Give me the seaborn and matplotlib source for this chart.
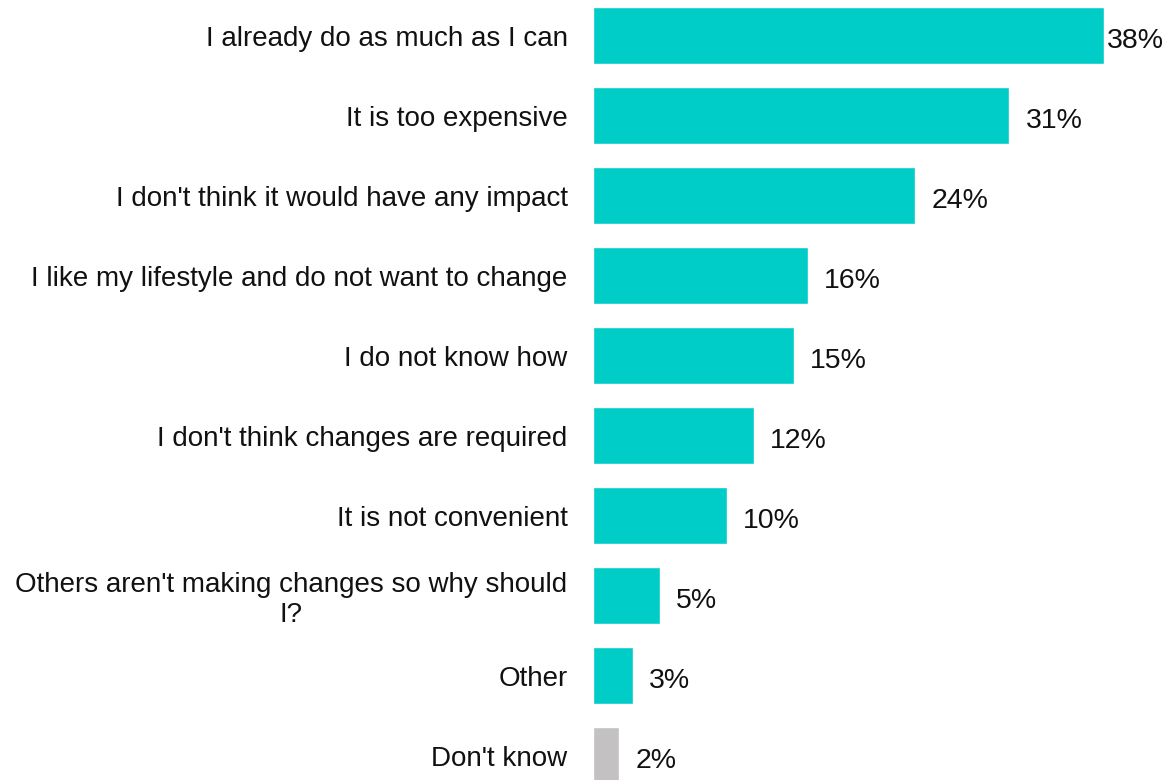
import matplotlib
matplotlib.use("Agg")
import matplotlib.pyplot as plt
import seaborn as sns
import pandas as pd

categories = [
    "I already do as much as I can",
    "It is too expensive",
    "I don't think it would have any impact",
    "I like my lifestyle and do not want to change",
    "I do not know how",
    "I don't think changes are required",
    "It is not convenient",
    "Others aren't making changes so why should\nI?",
    "Other",
    "Don't know",
]
values = [38, 31, 24, 16, 15, 12, 10, 5, 3, 2]
value_labels = ["38%", "31%", "24%", "16%", "15%", "12%", "10%", "5%", "3%", "2%"]

TEAL = "#00CCC8"
GREY = "#C3C1C1"
bar_colors = [GREY if c == "Don't know" else TEAL for c in categories]

sns.set_theme(style="white")
plt.rcParams["font.family"] = ["Liberation Sans", "DejaVu Sans"]

df = pd.DataFrame({"reason": categories, "share": values})

W, H = 1174, 780
fig = plt.figure(figsize=(W / 100, H / 100), dpi=100)
ax = fig.add_axes([592.5 / W, 0, (W - 592.5) / W, 1])

sns.barplot(data=df, x="share", y="reason", hue="reason", palette=bar_colors,
            legend=False, width=0.7125, ax=ax, saturation=1)

px_per_unit = 13.45
ax.set_xlim(0, (W - 592.5) / px_per_unit)
ax.set_ylim((H - 35.5) / 80, -35.5 / 80)

for i, (v, lab) in enumerate(zip(values, value_labels)):
    off = 3 if v == max(values) else 16
    ax.annotate(lab, xy=(v, i), xytext=(off * 0.72, -1.5), textcoords="offset points",
                va="center_baseline", ha="left", fontsize=20.5, color="#111111")

ax.set_xlabel("")
ax.set_ylabel("")
ax.set_xticks([])
ax.tick_params(axis="y", length=0, pad=18, labelsize=20, labelcolor="#111111")
for t in ax.get_yticklabels():
    t.set_multialignment("center")
for s in ax.spines.values():
    s.set_visible(False)

fig.savefig("out.png", dpi=100, facecolor="white")
